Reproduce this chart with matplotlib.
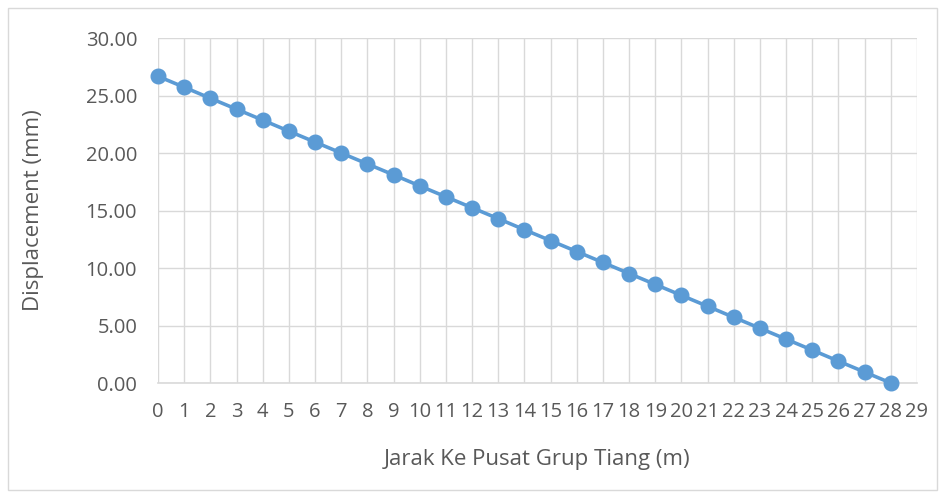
import matplotlib
matplotlib.use("Agg")
import matplotlib.pyplot as plt
from matplotlib.patches import Rectangle

jarak = list(range(0, 29))
displacement = [26.67, 25.72, 24.76, 23.81, 22.86, 21.90, 20.95, 20.00, 19.05, 18.10,
                17.14, 16.19, 15.24, 14.29, 13.33, 12.38, 11.43, 10.48, 9.52, 8.57,
                7.62, 6.67, 5.71, 4.76, 3.81, 2.86, 1.90, 0.95, 0.00]
x_ticks = list(range(0, 30))
y_ticks = [0, 5, 10, 15, 20, 25, 30]

plt.rcParams['font.family'] = ['Open Sans', 'DejaVu Sans']
txt = '#595959'
grid = '#D9D9D9'

fig = plt.figure(figsize=(9.45, 4.98), dpi=100)
fig.patches.append(Rectangle((8/945, 8/498), 929/945, 482/498, transform=fig.transFigure,
                             fill=False, edgecolor='#D9D9D9', linewidth=1))
ax = fig.add_axes([158/945, 115/498, 759/945, 345/498])
ax.plot(jarak, displacement, color='#5B9BD5', linewidth=2.6, marker='o', markersize=10.5,
        markerfacecolor='#5B9BD5', markeredgecolor='#5B9BD5', zorder=3, clip_on=False)
ax.set_xlim(0, 29)
ax.set_ylim(0, 30)
ax.set_xticks(x_ticks)
ax.set_xticklabels([str(v) for v in x_ticks])
ax.set_yticks(y_ticks)
ax.set_yticklabels([f"{v:.2f}" for v in y_ticks])
ax.grid(True, color=grid, linewidth=1)
ax.set_axisbelow(True)
for s in ['top', 'right', 'left']:
    ax.spines[s].set_visible(False)
ax.spines['bottom'].set_color(grid)
ax.spines['bottom'].set_linewidth(1.2)
ax.tick_params(axis='both', length=0, colors=txt, labelsize=14.5)
ax.tick_params(axis='x', pad=14)
ax.tick_params(axis='y', pad=15)
ax.set_xlabel('Jarak Ke Pusat Grup Tiang (m)', fontsize=16, color=txt, labelpad=19)
ax.set_ylabel('Displacement (mm)', fontsize=16, color=txt, labelpad=30)
fig.savefig('out.png', dpi=100)
